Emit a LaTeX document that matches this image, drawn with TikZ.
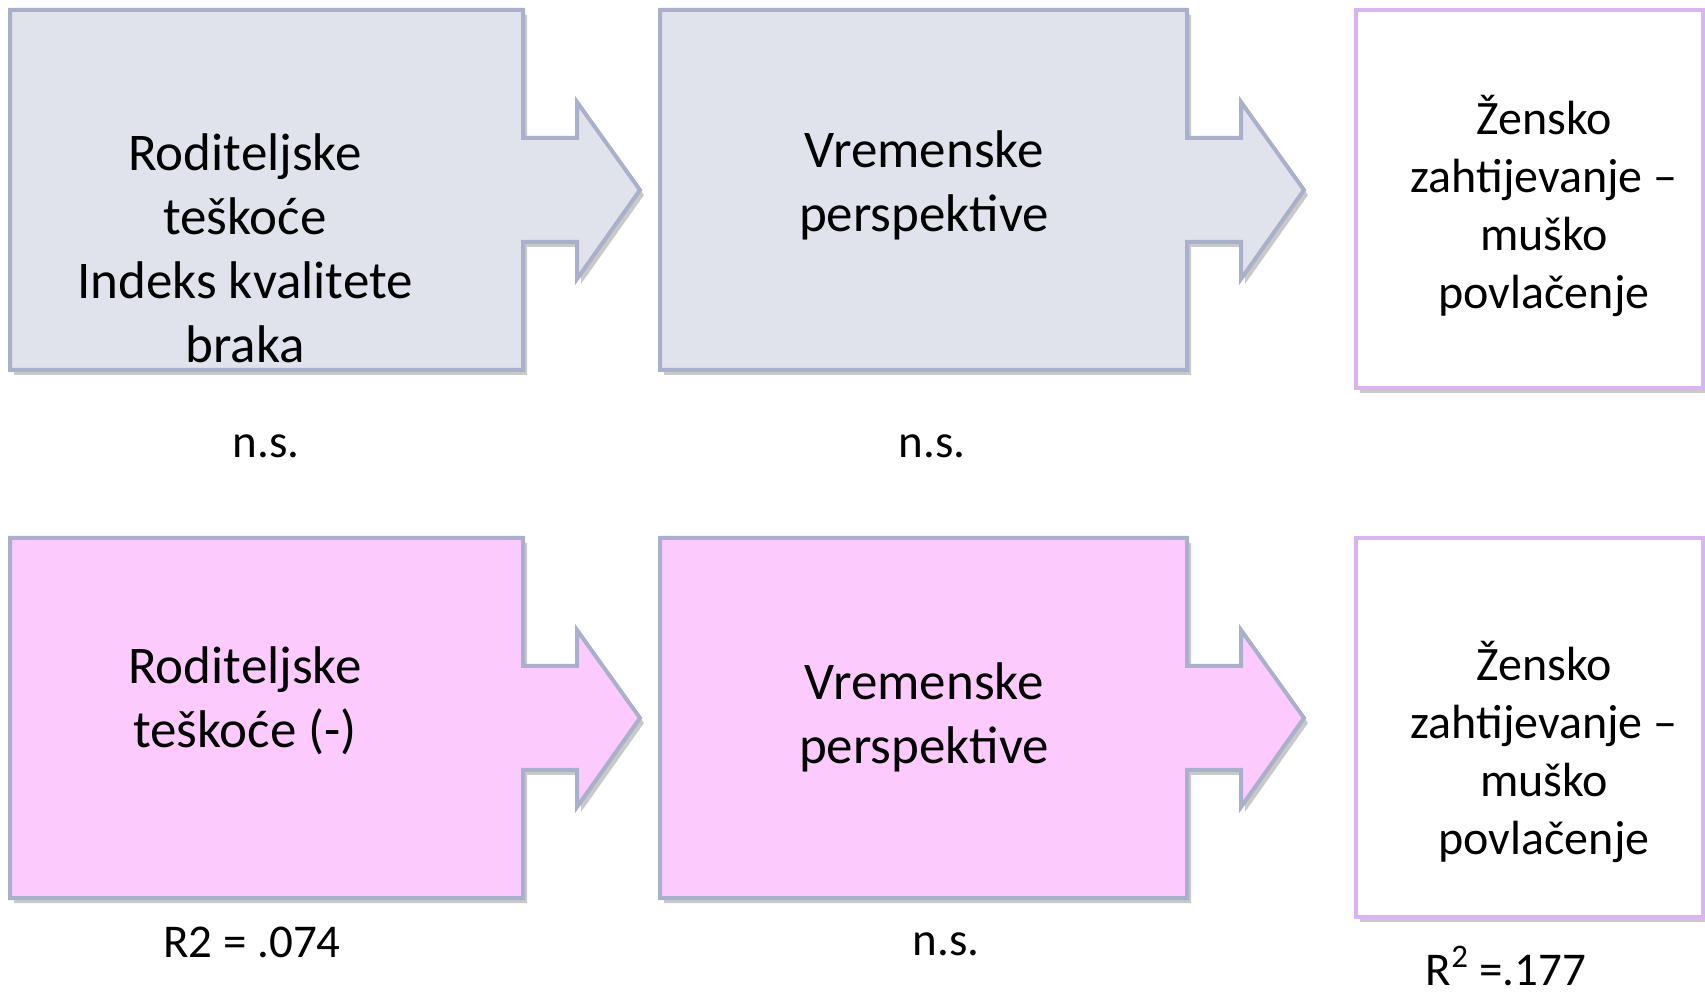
\documentclass[tikz,border=0pt]{standalone}
\usepackage{fontspec}
\setmainfont{Carlito}
\usepackage{xcolor}
\definecolor{BOXline}{HTML}{A9B0CB}
\definecolor{BOXgray}{HTML}{E0E3EC}
\definecolor{BOXpink}{HTML}{FDCAFD}
\definecolor{ENDline}{HTML}{D9B3F2}
\usepackage{tikz}
\usetikzlibrary{shadows}

\begin{document}
\begin{tikzpicture}[x=0.5pt, y=-0.5pt]
    \tikzset{%
        boxshadow/.style={drop shadow={shadow xshift=2pt, shadow yshift=-2.5pt, opacity=0.3, fill=black!70}},
        boxtext/.style={align=center, font=\fontsize{26.5pt}{32pt}\selectfont},
        endtext/.style={align=center, font=\fontsize{24pt}{29pt}\selectfont},
        stattext/.style={font=\fontsize{23.5pt}{28pt}\selectfont},
        pics/arrowbox/.style args={#1/#2}{code={%
                        % box and arrow as one outline, top left at (0,0)
                        \draw [BOXline, line width=2pt, line join=miter, fill=#2, boxshadow]
                            (0, 0) -- (#1, 0) -- (#1, 128) -- (#1+54, 128) -- (#1+54, 92)
                            -- (#1+117, 180) -- (#1+54, 269) -- (#1+54, 232) -- (#1, 232)
                            -- (#1, 360) -- (0, 360) -- cycle;
                    }
            },
        endbox/.style={draw=ENDline, line width=2pt, fill=white, boxshadow}
    }
    \useasboundingbox (0, 0) rectangle (1705, 1005);

    % width/fill
    \pic at (10, 10) {arrowbox=513/BOXgray};
    \pic at (660, 10) {arrowbox=527/BOXgray};
    \draw [endbox] (1356, 10) rectangle (1703, 388);

    \pic at (10, 538) {arrowbox=513/BOXpink};
    \pic at (660, 538) {arrowbox=527/BOXpink};
    \draw [endbox] (1356, 538) rectangle (1703, 917);

    % texts
    \node [boxtext] (parTop) at (245, 248) {Roditeljske\\teškoće\\Indeks kvalitete\\braka};
    \node [boxtext] (timeTop) at (924, 185) {Vremenske\\perspektive};
    \node [endtext] (demTop) at (1544, 206) {Žensko\\zahtijevanje –\\muško\\povlačenje};

    \node [boxtext] (parBot) at (245, 701) {Roditeljske\\teškoće (-)};
    \node [boxtext] (timeBot) at (924, 717) {Vremenske\\perspektive};
    \node [endtext] (demBot) at (1544, 752) {Žensko\\zahtijevanje –\\muško\\povlačenje};

    % statistics
    \node [stattext] (nsParTop) at (266, 446) {n.s.};
    \node [stattext] (nsTimeTop) at (932, 446) {n.s.};
    \node [stattext] (rParBot) at (252, 942) {R2 = .074};
    \node [stattext] (nsTimeBot) at (946, 944) {n.s.};
    \node [stattext] (rDemBot) at (1506, 966) {R\textsuperscript{2} =.177};
\end{tikzpicture}
\end{document}
